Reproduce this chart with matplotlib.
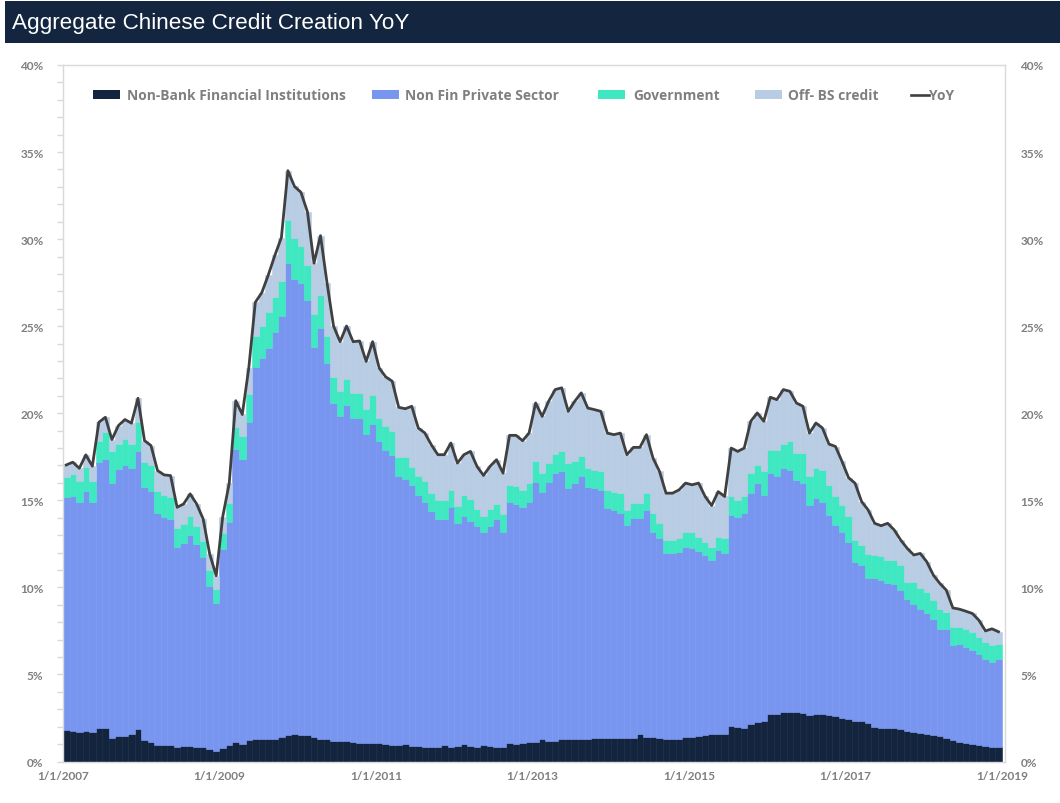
import numpy as np
import matplotlib
matplotlib.use("Agg")
import matplotlib.pyplot as plt
from matplotlib.patches import Rectangle
from matplotlib.lines import Line2D
from matplotlib.ticker import MultipleLocator, FixedLocator
from matplotlib import font_manager

# ---------------- data (monthly, Jan 2007 .. Dec 2018, % YoY) ----------------
# top of each stacked band
yoy = [17.03, 17.19, 16.84, 17.61, 16.96, 19.48, 19.77, 18.49, 19.29, 19.64, 19.43, 20.86,
       18.43, 18.14, 16.71, 16.46, 16.42, 14.60, 14.79, 15.37, 14.79, 13.93, 11.92, 10.67,
       14.06, 15.98, 20.72, 19.93, 22.60, 26.37, 26.93, 27.95, 29.07, 30.09, 33.93, 33.03,
       32.69, 31.56, 28.62, 30.20, 27.49, 25.01, 24.11, 25.01, 24.11, 24.15, 22.98, 24.11,
       22.60, 22.09, 21.84, 20.34, 20.26, 20.40, 19.15, 18.87, 18.19, 17.62, 17.62, 18.29,
       17.14, 17.62, 17.81, 16.95, 16.43, 16.95, 17.33, 16.56, 18.73, 18.73, 18.42, 18.87,
       20.59, 19.82, 20.69, 21.36, 21.46, 20.11, 20.69, 21.17, 20.30, 20.21, 20.11, 18.86,
       18.77, 18.86, 17.62, 18.04, 18.04, 18.77, 17.43, 16.66, 15.41, 15.41, 15.60, 15.99,
       15.89, 15.99, 15.22, 14.70, 15.50, 15.22, 18.00, 17.81, 18.00, 19.54, 20.02, 19.54,
       20.92, 20.78, 21.36, 21.26, 20.59, 20.40, 18.86, 19.44, 19.15, 18.23, 18.09, 17.23,
       16.30, 15.98, 14.93, 14.45, 13.68, 13.54, 13.68, 13.30, 12.72, 12.24, 11.86, 11.95,
       11.47, 10.71, 10.23, 9.84, 8.82, 8.75, 8.63, 8.50, 8.11, 7.50, 7.62, 7.45]

gov_top = [16.33, 16.52, 16.13, 16.90, 16.13, 18.43, 18.90, 17.86, 18.24, 18.53, 18.24, 19.48,
           17.19, 17.03, 15.52, 15.31, 15.18, 13.40, 13.65, 14.12, 13.55, 12.69, 10.97, 9.91,
           13.10, 14.87, 19.20, 18.70, 21.08, 24.45, 25.00, 25.80, 26.70, 27.60, 31.10, 30.09,
           29.60, 28.50, 25.70, 26.80, 24.45, 22.08, 21.29, 21.96, 21.17, 21.17, 20.27, 21.06,
           19.75, 19.25, 18.96, 17.50, 17.50, 16.90, 16.40, 16.10, 15.40, 15.00, 15.00, 15.60,
           14.70, 15.30, 15.10, 14.50, 14.10, 14.50, 14.80, 14.20, 15.90, 15.80, 15.60, 15.99,
           17.27, 16.56, 17.13, 17.66, 17.81, 17.13, 17.23, 17.52, 16.85, 16.75, 16.66, 15.60,
           15.50, 15.40, 14.45, 14.83, 14.83, 15.41, 14.26, 13.68, 12.72, 12.72, 12.82, 13.20,
           13.20, 12.90, 12.62, 12.34, 12.91, 12.82, 15.22, 15.02, 15.22, 16.56, 17.04, 16.66,
           17.90, 17.90, 18.23, 18.38, 17.71, 17.71, 16.37, 16.85, 16.75, 15.89, 15.22, 14.74,
           14.10, 12.72, 12.43, 11.90, 11.86, 11.80, 11.60, 11.55, 11.28, 10.32, 10.32, 9.94,
           9.75, 9.26, 8.78, 8.59, 7.73, 7.73, 7.63, 7.44, 7.15, 6.86, 6.67, 6.77]

private_top = [15.18, 15.27, 14.93, 15.56, 14.93, 17.19, 17.38, 16.00, 16.80, 17.03, 16.84, 17.86,
               15.75, 15.56, 14.28, 14.03, 13.93, 12.31, 12.56, 12.98, 12.50, 11.73, 10.07, 9.11,
               12.20, 13.78, 17.93, 17.36, 19.48, 22.64, 23.20, 23.77, 24.67, 25.58, 28.62, 27.72,
               27.50, 26.50, 23.80, 24.90, 22.87, 20.61, 19.82, 20.50, 19.70, 19.70, 18.80, 19.37,
               18.38, 17.90, 17.60, 16.40, 16.20, 15.90, 15.30, 14.90, 14.40, 13.90, 13.90, 14.60,
               13.70, 14.10, 13.80, 13.50, 13.20, 13.50, 13.90, 13.20, 14.90, 14.80, 14.60, 14.93,
               16.08, 15.50, 16.08, 16.56, 16.66, 15.70, 15.99, 16.37, 15.79, 15.70, 15.60, 14.54,
               14.45, 14.30, 13.58, 13.97, 13.97, 14.45, 13.20, 12.82, 11.95, 11.95, 12.05, 12.34,
               12.24, 12.10, 11.86, 11.57, 12.14, 11.95, 14.16, 14.06, 14.26, 15.41, 15.99, 15.31,
               16.56, 16.37, 16.85, 16.75, 16.18, 15.99, 14.74, 15.12, 14.93, 14.16, 13.58, 13.20,
               12.58, 11.47, 11.28, 10.55, 10.51, 10.45, 10.25, 10.20, 9.84, 9.36, 9.07, 8.78,
               8.50, 8.20, 7.63, 7.63, 6.67, 6.77, 6.58, 6.38, 6.19, 5.90, 5.71, 5.90]

nbfi = [1.82, 1.78, 1.72, 1.78, 1.72, 1.91, 1.91, 1.34, 1.49, 1.49, 1.59, 1.88,
        1.21, 1.11, 0.96, 0.96, 0.96, 0.82, 0.88, 0.88, 0.82, 0.82, 0.69, 0.63,
        0.77, 0.92, 1.11, 1.01, 1.21, 1.30, 1.30, 1.32, 1.32, 1.38, 1.55, 1.60,
        1.55, 1.50, 1.38, 1.30, 1.28, 1.20, 1.15, 1.15, 1.10, 1.05, 1.05, 1.05,
        1.05, 1.00, 0.95, 0.95, 1.00, 0.90, 0.90, 0.85, 0.85, 0.85, 0.95, 0.85,
        0.90, 1.00, 0.90, 0.85, 0.95, 0.90, 0.85, 0.85, 1.05, 1.00, 1.05, 1.10,
        1.10, 1.30, 1.20, 1.20, 1.30, 1.30, 1.30, 1.30, 1.30, 1.35, 1.35, 1.35,
        1.35, 1.35, 1.35, 1.35, 1.60, 1.38, 1.38, 1.35, 1.30, 1.30, 1.30, 1.38,
        1.40, 1.45, 1.50, 1.60, 1.60, 1.60, 2.05, 2.00, 1.95, 2.15, 2.25, 2.35,
        2.70, 2.75, 2.83, 2.85, 2.83, 2.80, 2.65, 2.75, 2.70, 2.65, 2.60, 2.50,
        2.45, 2.35, 2.30, 2.20, 2.00, 1.95, 1.90, 1.90, 1.85, 1.75, 1.70, 1.65,
        1.60, 1.50, 1.45, 1.35, 1.25, 1.10, 1.05, 1.00, 0.95, 0.90, 0.85, 0.82]

x_labels = ["1/1/2007", "1/1/2009", "1/1/2011", "1/1/2013", "1/1/2015", "1/1/2017", "1/1/2019"]
y_labels = ["0%", "5%", "10%", "15%", "20%", "25%", "30%", "35%", "40%"]
series_names = ["Non-Bank Financial Institutions", "Non Fin Private Sector", "Government",
                "Off- BS credit", "YoY"]

# ---------------- styling ----------------
C_NBFI = "#13243f"
C_PRIV = "#7895ef"
C_GOV = "#40e8c2"
C_OFF = "#b8cce4"
C_LINE = "#404040"
C_TXT = "#7f7f7f"
C_GRID = "#d9d9d9"
TITLE_BG = "#13253f"

installed = {f.name for f in font_manager.fontManager.ttflist}
LBL_FONT = ["Lato", "DejaVu Sans"]
LEG_FONT = ["Open Sans", "Lato", "DejaVu Sans"]
if "Liberation Sans Narrow" in installed:
    TITLE_FONT = ["Liberation Sans Narrow", "DejaVu Sans"]
    TITLE_SIZE = 17.5
else:
    TITLE_FONT = ["Liberation Sans", "DejaVu Sans"]
    TITLE_SIZE = 16.2

W, H = 1060, 804
fig = plt.figure(figsize=(W / 100, H / 100), dpi=100)
fig.patch.set_facecolor("white")


def fx(px):
    return px / W


def fy(py):
    return 1 - py / H


# title banner
fig.patches.append(Rectangle((fx(5), fy(44)), fx(1060) - fx(5), fy(2) - fy(44),
                             transform=fig.transFigure, facecolor=TITLE_BG,
                             edgecolor="none", zorder=0))
fig.text(fx(12), fy(23), "Aggregate Chinese Credit Creation YoY", color="white",
         fontsize=TITLE_SIZE, family=TITLE_FONT, va="center", ha="left")

# axes
ax = fig.add_axes([fx(63), fy(762.5), fx(1005) - fx(63), fy(66) - fy(762.5)])
n = len(yoy)
x = np.arange(n)
N = np.array(nbfi)
P = np.array(private_top)
G = np.array(gov_top)
Y = np.array(yoy)

priv = P - N
gov = G - P
off = np.clip(Y - G, 0, None)

kw = dict(width=1.0, linewidth=0.4, align="center")
ax.bar(x, N, color=C_NBFI, edgecolor=C_NBFI, **kw)
ax.bar(x, priv, bottom=N, color=C_PRIV, edgecolor=C_PRIV, **kw)
ax.bar(x, gov, bottom=P, color=C_GOV, edgecolor=C_GOV, **kw)
ax.bar(x, off, bottom=G, color=C_OFF, edgecolor=C_OFF, **kw)
ax.plot(x, Y, color=C_LINE, lw=2.0, solid_joinstyle="round", zorder=5)

ax.set_xlim(-0.5, 144.0)
ax.set_ylim(0, 40)

for s in ax.spines.values():
    s.set_color(C_GRID)
    s.set_linewidth(1.0)

ax.yaxis.set_major_locator(FixedLocator(np.arange(0, 41, 5)))
ax.set_yticklabels(y_labels)
ax.yaxis.set_minor_locator(MultipleLocator(1))
ax.tick_params(axis="y", which="both", length=4, color=C_GRID, width=1, pad=10,
               labelsize=8.5, labelcolor=C_TXT)
ax.set_xticks(np.arange(len(x_labels)) * 24 - 0.5)
ax.set_xticklabels(x_labels)
ax.tick_params(axis="x", length=0, pad=6, labelsize=8.5, labelcolor=C_TXT)
for lab in ax.get_xticklabels() + ax.get_yticklabels():
    lab.set_fontweight("bold")
    lab.set_family(LBL_FONT)

ax2 = ax.twinx()
ax2.set_ylim(0, 40)
ax2.yaxis.set_major_locator(FixedLocator(np.arange(0, 41, 5)))
ax2.set_yticklabels(y_labels)
ax2.tick_params(axis="y", length=0, pad=11, labelsize=8.5, labelcolor=C_TXT)
for lab in ax2.get_yticklabels():
    lab.set_fontweight("bold")
    lab.set_family(LBL_FONT)
for s in ax2.spines.values():
    s.set_visible(False)

# legend (manual, positioned like the original)
leg_y = 95.5
patch_items = [(93, C_NBFI, 127), (372, C_PRIV, 405), (598, C_GOV, 633), (755, C_OFF, 788)]
for (px0, col, tx), name in zip(patch_items, series_names[:4]):
    fig.patches.append(Rectangle((fx(px0), fy(leg_y + 4.5)), fx(27), 9 / H,
                                 transform=fig.transFigure, facecolor=col,
                                 edgecolor="none", zorder=10))
    fig.text(fx(tx), fy(leg_y), name, color=C_TXT, fontsize=9.9, fontweight="bold",
             family=LEG_FONT, va="center", ha="left")
fig.lines.append(Line2D([fx(911), fx(929)], [fy(leg_y), fy(leg_y)],
                        transform=fig.transFigure, color=C_LINE, lw=1.9))
fig.text(fx(929), fy(leg_y), series_names[4], color=C_TXT, fontsize=9.9,
         fontweight="bold", family=LEG_FONT, va="center", ha="left")

fig.savefig("out.png", dpi=100)
